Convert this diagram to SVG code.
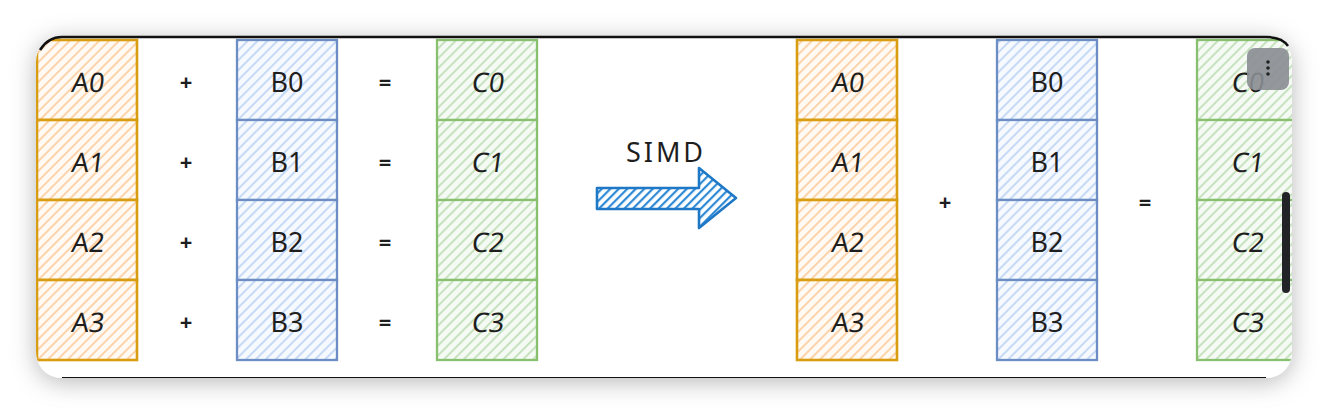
<svg xmlns="http://www.w3.org/2000/svg" width="1328" height="414" viewBox="0 0 1328 414">
<defs>
<pattern id="hO" patternUnits="userSpaceOnUse" width="7" height="7" patternTransform="rotate(45)"><rect width="7" height="7" fill="#fffaf4"/><line x1="1" y1="0" x2="1" y2="7" stroke="#fdcfa3" stroke-width="1.8"/></pattern>
<pattern id="hB" patternUnits="userSpaceOnUse" width="7" height="7" patternTransform="rotate(45)"><rect width="7" height="7" fill="#f6f9fe"/><line x1="1" y1="0" x2="1" y2="7" stroke="#c1d6f6" stroke-width="1.8"/></pattern>
<pattern id="hG" patternUnits="userSpaceOnUse" width="7" height="7" patternTransform="rotate(45)"><rect width="7" height="7" fill="#f5faf4"/><line x1="1" y1="0" x2="1" y2="7" stroke="#c1e0b9" stroke-width="1.8"/></pattern>
<pattern id="hA" patternUnits="userSpaceOnUse" width="6" height="6" patternTransform="rotate(45)"><rect width="6" height="6" fill="#ffffff"/><line x1="1" y1="0" x2="1" y2="6" stroke="#2f8ad6" stroke-width="2.4"/></pattern>
<clipPath id="card"><rect x="36" y="36" width="1256" height="342" rx="26"/></clipPath>
<filter id="sh" x="-5%" y="-20%" width="110%" height="140%"><feDropShadow dx="0" dy="4" stdDeviation="12" flood-color="#000" flood-opacity="0.28"/></filter>
</defs>
<style>
.a{fill:url(#hO);stroke:#d99d12;stroke-width:2.6}
.b{fill:url(#hB);stroke:#6c8ec4;stroke-width:2.3}
.c{fill:url(#hG);stroke:#88c070;stroke-width:2.3}
.t{font-family:"Noto Sans","DejaVu Sans",sans-serif;font-size:27px;fill:#1e1e1e;text-anchor:middle}
.op{font-family:"Noto Sans","DejaVu Sans",sans-serif;font-size:22px;font-weight:bold;fill:#1e1e1e;text-anchor:middle}
</style>
<rect width="1328" height="414" fill="#ffffff"/>
<rect x="36" y="36" width="1256" height="342" rx="26" fill="#ffffff" filter="url(#sh)"/>
<g clip-path="url(#card)">
<g id="leftA">
<g id="A0L"><rect class="a" x="37" y="40" width="100" height="80"/><text class="t" transform="translate(87 92) skewX(-7)">A0</text></g>
<g id="A1L"><rect class="a" x="37" y="120" width="100" height="80"/><text class="t" transform="translate(87 172) skewX(-7)">A1</text></g>
<g id="A2L"><rect class="a" x="37" y="200" width="100" height="80"/><text class="t" transform="translate(87 252) skewX(-7)">A2</text></g>
<g id="A3L"><rect class="a" x="37" y="280" width="100" height="80"/><text class="t" transform="translate(87 332) skewX(-7)">A3</text></g>
</g>
<g id="leftB">
<g id="B0L"><rect class="b" x="237" y="40" width="100" height="80"/><text class="t" x="287" y="92">B0</text></g>
<g id="B1L"><rect class="b" x="237" y="120" width="100" height="80"/><text class="t" x="287" y="172">B1</text></g>
<g id="B2L"><rect class="b" x="237" y="200" width="100" height="80"/><text class="t" x="287" y="252">B2</text></g>
<g id="B3L"><rect class="b" x="237" y="280" width="100" height="80"/><text class="t" x="287" y="332">B3</text></g>
</g>
<g id="leftC">
<g id="C0L"><rect class="c" x="437" y="40" width="100" height="80"/><text class="t" transform="translate(487 92) skewX(-8)">C0</text></g>
<g id="C1L"><rect class="c" x="437" y="120" width="100" height="80"/><text class="t" transform="translate(487 172) skewX(-8)">C1</text></g>
<g id="C2L"><rect class="c" x="437" y="200" width="100" height="80"/><text class="t" transform="translate(487 252) skewX(-8)">C2</text></g>
<g id="C3L"><rect class="c" x="437" y="280" width="100" height="80"/><text class="t" transform="translate(487 332) skewX(-8)">C3</text></g>
</g>
<g id="leftOps">
<text class="op" x="186" y="90">+</text><text class="op" x="186" y="170">+</text><text class="op" x="186" y="250">+</text><text class="op" x="186" y="330">+</text>
<text class="op" x="385" y="90">=</text><text class="op" x="385" y="170">=</text><text class="op" x="385" y="250">=</text><text class="op" x="385" y="330">=</text>
</g>
<g id="connectors">
<path d="M597,188 L699,188 L699,168 L736,198 L699,228 L699,209 L597,209 Z" fill="url(#hA)" stroke="#1f78c6" stroke-width="2.6" stroke-linejoin="round"/>
</g>
<g id="simdLabel"><text class="t" x="666" y="162" font-size="25" letter-spacing="3">SIMD</text></g>
<g id="rightA">
<g id="A0R"><rect class="a" x="797" y="40" width="100" height="80"/><text class="t" transform="translate(847 92) skewX(-7)">A0</text></g>
<g id="A1R"><rect class="a" x="797" y="120" width="100" height="80"/><text class="t" transform="translate(847 172) skewX(-7)">A1</text></g>
<g id="A2R"><rect class="a" x="797" y="200" width="100" height="80"/><text class="t" transform="translate(847 252) skewX(-7)">A2</text></g>
<g id="A3R"><rect class="a" x="797" y="280" width="100" height="80"/><text class="t" transform="translate(847 332) skewX(-7)">A3</text></g>
</g>
<g id="rightB">
<g id="B0R"><rect class="b" x="997" y="40" width="100" height="80"/><text class="t" x="1047" y="92">B0</text></g>
<g id="B1R"><rect class="b" x="997" y="120" width="100" height="80"/><text class="t" x="1047" y="172">B1</text></g>
<g id="B2R"><rect class="b" x="997" y="200" width="100" height="80"/><text class="t" x="1047" y="252">B2</text></g>
<g id="B3R"><rect class="b" x="997" y="280" width="100" height="80"/><text class="t" x="1047" y="332">B3</text></g>
</g>
<g id="rightC">
<g id="C0R"><rect class="c" x="1197" y="40" width="100" height="80"/><text class="t" transform="translate(1247 92) skewX(-8)">C0</text></g>
<g id="C1R"><rect class="c" x="1197" y="120" width="100" height="80"/><text class="t" transform="translate(1247 172) skewX(-8)">C1</text></g>
<g id="C2R"><rect class="c" x="1197" y="200" width="100" height="80"/><text class="t" transform="translate(1247 252) skewX(-8)">C2</text></g>
<g id="C3R"><rect class="c" x="1197" y="280" width="100" height="80"/><text class="t" transform="translate(1247 332) skewX(-8)">C3</text></g>
</g>
<g id="rightOps"><text class="op" x="945" y="210">+</text><text class="op" x="1145" y="210">=</text></g>
<g id="menuButton"><rect x="1247" y="48" width="42" height="42" rx="8" fill="#8a8d92" fill-opacity="0.9"/><circle cx="1268" cy="62" r="1.8" fill="#222"/><circle cx="1268" cy="68" r="1.8" fill="#222"/><circle cx="1268" cy="74" r="1.8" fill="#222"/></g>
<g id="scrollbar"><rect x="1282" y="192" width="8" height="101" rx="4" fill="#222326"/></g>
</g>
<path d="M40,50 Q48,37 62,37 H1266 Q1282,37 1288,46" fill="none" stroke="#111" stroke-width="2.5"/>
<line x1="62" y1="377.5" x2="1266" y2="377.5" stroke="#111" stroke-width="1.2"/>
</svg>
